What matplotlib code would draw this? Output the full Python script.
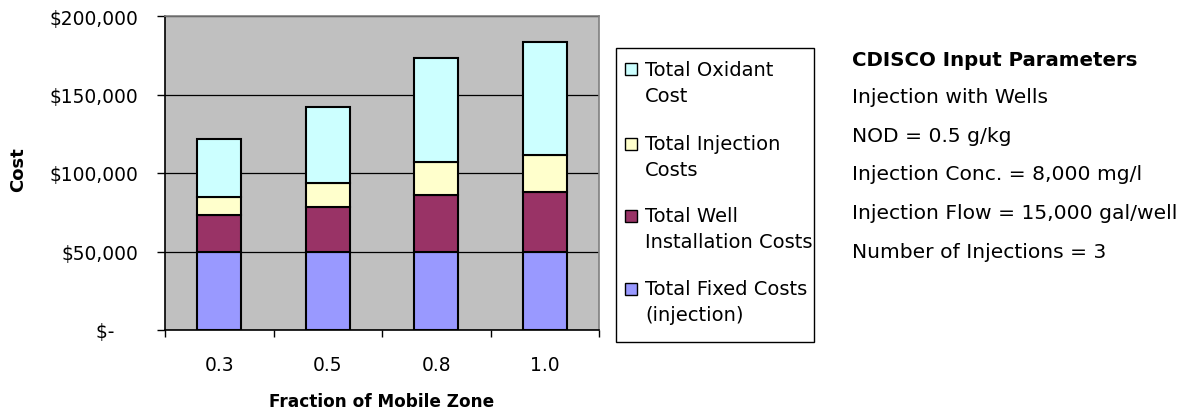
import matplotlib.pyplot as plt
from matplotlib.patches import Rectangle
from matplotlib.ticker import FuncFormatter
import numpy as np

# data
fractions = ["0.3", "0.5", "0.8", "1.0"]
fixed_costs = [50000, 50000, 50000, 50000]
well_costs = [23400, 28100, 36000, 38100]
injection_costs = [11500, 15700, 21200, 23600]
oxidant_costs = [36800, 48000, 65800, 71500]

series_labels = ["Total Fixed Costs\n(injection)", "Total Well\nInstallation Costs",
                 "Total Injection\nCosts", "Total Oxidant\nCost"]
series_colors = ["#9999FF", "#993366", "#FFFFCC", "#CCFFFF"]

param_title = "CDISCO Input Parameters"
param_lines = ["Injection with Wells", "NOD = 0.5 g/kg", "Injection Conc. = 8,000 mg/l",
               "Injection Flow = 15,000 gal/well", "Number of Injections = 3"]

W, H = 1193, 414
fig = plt.figure(figsize=(W / 100, H / 100), dpi=100)
ax = fig.add_axes([165 / W, 1 - 331 / H, (599 - 165) / W, (331 - 17) / H])
ax.set_facecolor("#C0C0C0")
ax.set_axisbelow(True)

x = np.arange(len(fractions))
bottom = np.zeros(len(fractions))
for vals, col in zip([fixed_costs, well_costs, injection_costs, oxidant_costs], series_colors):
    ax.bar(x, vals, width=0.405, bottom=bottom, color=col, edgecolor="black", linewidth=1.5)
    bottom += np.array(vals)

ax.set_xlim(-0.5, len(fractions) - 0.5)
ax.set_ylim(0, 200000)
ax.set_yticks([0, 50000, 100000, 150000, 200000])
ax.yaxis.set_major_formatter(FuncFormatter(lambda v, p: "$-    " if v == 0 else f"${v:,.0f}"))
ax.grid(axis="y", color="black", linewidth=0.9)

ax.set_xticks(x)
ax.set_xticklabels(fractions)
ax.set_xticks(np.arange(-0.5, len(fractions), 1.0), minor=True)
ax.tick_params(axis="x", which="major", length=0, pad=18, labelsize=13.4)
ax.tick_params(axis="x", which="minor", length=5, width=1, direction="out")
ax.tick_params(axis="y", length=5.8, width=1, direction="out", pad=13.5, labelsize=13.4)

for side in ["left", "bottom"]:
    ax.spines[side].set_color("black")
    ax.spines[side].set_linewidth(1.2)
for side in ["top", "right"]:
    ax.spines[side].set_color("#808080")
    ax.spines[side].set_linewidth(1.2)

fig.text(18 / W, 1 - 170 / H, "Cost", rotation=90, ha="center", va="center",
         fontsize=13, fontweight="bold")
fig.text(382 / W, 1 - 402 / H, "Fraction of Mobile Zone", ha="center", va="center",
         fontsize=12.2, fontweight="bold")

# legend box drawn by hand so the squares sit on the first line
fig.patches.append(Rectangle((616 / W, 1 - 343 / H), (814 - 616) / W, (343 - 49) / H,
                             transform=fig.transFigure, facecolor="white",
                             edgecolor="black", linewidth=1))
entry_y = [290, 217, 145, 70]
for lab, col, y in zip(series_labels, series_colors, entry_y):
    fig.patches.append(Rectangle((625 / W, 1 - (y + 6) / H), 12 / W, 12 / H,
                                 transform=fig.transFigure, facecolor=col,
                                 edgecolor="black", linewidth=1))
    first, second = lab.split("\n")
    fig.text(645 / W, 1 - y / H, first, ha="left", va="center", fontsize=14)
    fig.text(645 / W, 1 - (y + 26) / H, second, ha="left", va="center", fontsize=14)

fig.text(852 / W, 1 - 60 / H, param_title, ha="left", va="center",
         fontsize=14.2, fontweight="bold")
for i, line in enumerate(param_lines):
    fig.text(852 / W, 1 - (98 + i * 38.5) / H, line, ha="left", va="center", fontsize=14.6)

fig.savefig("out.png", dpi=100)
